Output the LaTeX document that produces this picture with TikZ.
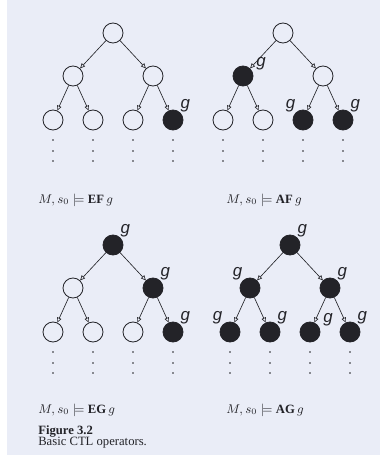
\documentclass[tikz,border=0pt]{standalone}
\usepackage{fontspec}
\setmainfont{Liberation Serif}
\setsansfont{Liberation Sans}
\usetikzlibrary{positioning,arrows.meta}
\definecolor{paper}{RGB}{234,237,247}
\definecolor{ink}{RGB}{35,35,40}

\begin{document}
\begin{tikzpicture}[x=0.025cm,y=-0.025cm,
        state/.style={draw=ink,circle,minimum size=0.5cm,inner sep=0pt,line width=0.6pt},
        edge/.style={draw=ink,line width=0.45pt,-{Triangle[open,length=3.5pt,width=3.2pt]}},
        glabel/.style={inner sep=0pt,font=\sffamily\itshape\large,text=ink},
        caption/.style={anchor=west,inner sep=0pt,font=\small,text=ink}]
        \fill[white] (0,0) rectangle (380,455);
        \fill[paper] (7,0) rectangle (380,455);
        % the four trees: name/x/y/fill of the seven states
        \foreach \t/\x/\y/\fa/\fb/\fc/\fd/\fe/\ff/\fg in {
            a/113/33/paper/paper/paper/paper/paper/paper/ink,
            b/283/33/paper/ink/paper/paper/paper/ink/ink,
            c/113/245/ink/paper/ink/paper/paper/paper/ink,
            d/290/245/ink/ink/ink/ink/ink/ink/ink}{
            \node[state,fill=\fa] (\t0) at (\x,\y) {};
            \node[state,fill=\fb] (\t1) at (\x-40,\y+43) {};
            \node[state,fill=\fc] (\t2) at (\x+40,\y+43) {};
            \node[state,fill=\fd] (\t3) at (\x-60,\y+87) {};
            \node[state,fill=\fe] (\t4) at (\x-20,\y+87) {};
            \node[state,fill=\ff] (\t5) at (\x+20,\y+87) {};
            \node[state,fill=\fg] (\t6) at (\x+60,\y+87) {};
            \draw[edge] (\t0) -- (\t1);
            \draw[edge] (\t0) -- (\t2);
            \draw[edge] (\t1) -- (\t3);
            \draw[edge] (\t1) -- (\t4);
            \draw[edge] (\t2) -- (\t5);
            \draw[edge] (\t2) -- (\t6);
            \foreach \j in {3,...,6}
                \foreach \k in {20,31,41}
                    \fill[ink] ([yshift=-\k*0.025cm]\t\j) circle (0.55pt);
        }
        % labels g
        \node[glabel,above right=0pt of a6] (ga6) {g};
        \node[glabel,above right=-1pt and 4pt of b1] (gb1) {g};
        \node[glabel,above left=0pt of b5] (gb5) {g};
        \node[glabel,above right=0pt of b6] (gb6) {g};
        \node[glabel,above right=0pt of c0] (gc0) {g};
        \node[glabel,above right=0pt of c2] (gc2) {g};
        \node[glabel,above right=0pt of c6] (gc6) {g};
        \node[glabel,above right=0pt of d0] (gd0) {g};
        \node[glabel,above left=0pt of d1] (gd1) {g};
        \node[glabel,above right=0pt of d2] (gd2) {g};
        \node[glabel,above left=0pt of d3] (gd3) {g};
        \node[glabel,above right=0pt of d4] (gd4) {g};
        \node[glabel,above right=-1pt and 4pt of d5] (gd5) {g};
        \node[glabel,above right=0pt of d6] (gd6) {g};
        % captions
        \node[caption] (capa) at (38,200) {$M, s_0 \models \mathbf{EF}\,g$};
        \node[caption] (capb) at (226,200) {$M, s_0 \models \mathbf{AF}\,g$};
        \node[caption] (capc) at (38,410) {$M, s_0 \models \mathbf{EG}\,g$};
        \node[caption] (capd) at (226,410) {$M, s_0 \models \mathbf{AG}\,g$};
        \node[caption,font=\small\bfseries] (fig) at (38,431) {Figure 3.2};
        \node[caption] (figtext) at (38,443) {Basic CTL operators.};
    \end{tikzpicture}
\end{document}
